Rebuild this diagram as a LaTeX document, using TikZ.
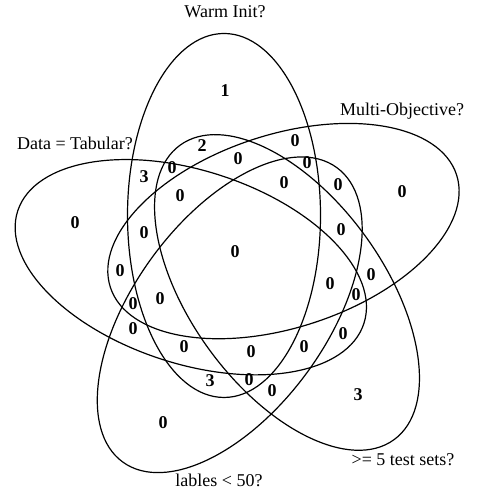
\documentclass[tikz,border=0pt]{standalone}
\usepackage{fontspec}
\setmainfont{Liberation Serif}
\usetikzlibrary{calc}

\tikzset{
	ring/.style={line width=1.2pt, black},
	lab/.style={font=\fontsize{18}{20}\selectfont},
	num/.style={font=\fontsize{18}{20}\selectfont\bfseries}
}

\begin{document}
\begin{tikzpicture}[x=1pt, y=1pt]

	\useasboundingbox (0,0) rectangle (476,-492);

	% centre of the star, the five ellipses turn round it
	\coordinate (O) at (243,-264.2);
	\foreach \k in {0,...,4}
		\draw[ring, rotate around={-72*\k:(O)}] ($(O)+(111.3:52.3)$) ellipse [x radius=96.5pt, y radius=182pt];

	% set names
	\node[lab] (warm) at (225,-12) {Warm Init?};
	\node[lab] (multi) at (402,-111) {Multi-Objective?};
	\node[lab] (tabular) at (75,-143) {Data = Tabular?};
	\node[lab] (testsets) at (403,-460) {>= 5 test sets?};
	\node[lab] (lables) at (219,-480) {lables < 50?};

	% counts
	\foreach \x/\y/\v [count=\i] in {
		225/91/1, 202/146/2, 295/141/0, 238/159/0, 307/163/0,
		172/168/0, 144/177/3, 284/183/0, 338/185/0, 402/192/0,
		180/196/0, 75/223/0, 144/233/0, 341/230/0, 235/252/0,
		120/271/0, 371/275/0, 330/284/0, 160/299/0, 356/295/0,
		133/304/0, 133/329/0, 343/334/0, 184/347/0, 304/347/0,
		251/352/0, 210/381/3, 249/380/0, 272/391/0, 358/395/3,
		163/423/0}
		\node[num] (r\i) at (\x,-\y) {\v};

\end{tikzpicture}
\end{document}
